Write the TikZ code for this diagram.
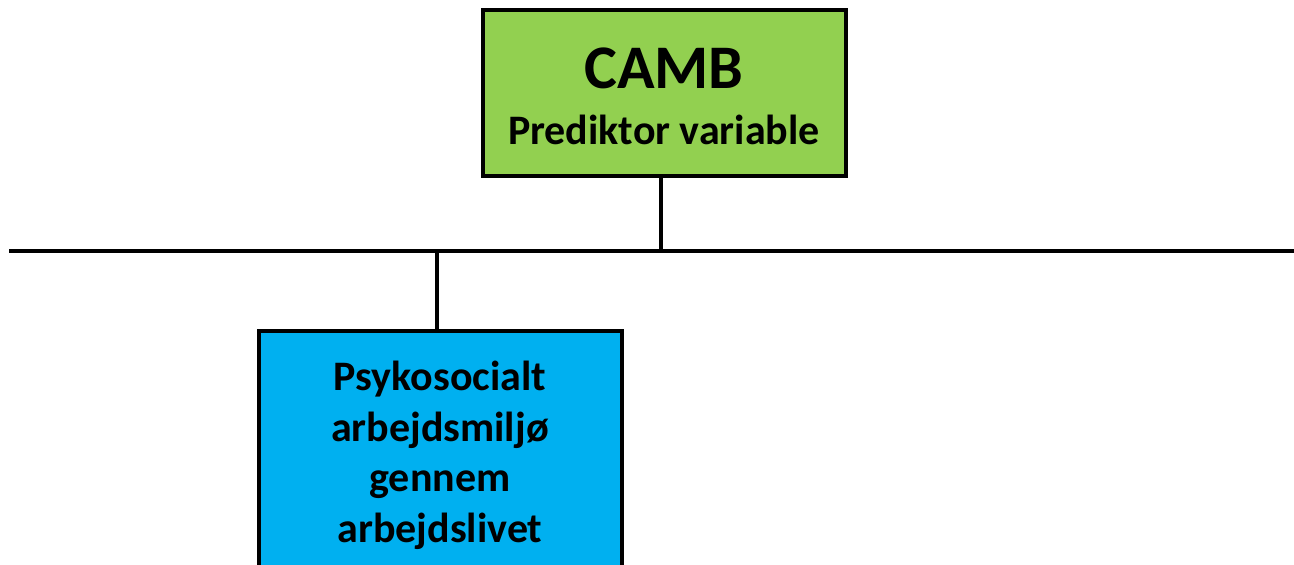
\documentclass[tikz,border=0pt]{standalone}
\usepackage{fontspec}
\setmainfont{Carlito}
\definecolor{boxgreen}{HTML}{92D050}
\definecolor{boxblue}{HTML}{00B0F0}
\begin{document}
\begin{tikzpicture}[x=1pt,y=-1pt,
  box/.style={draw=black,line width=4pt,minimum width=363pt,inner sep=0pt,align=center},
  lbl/.style={font=\bfseries,inner sep=0pt,align=center},
  conn/.style={draw=black,line width=4.5pt}]
\useasboundingbox (0,0) rectangle (1294,565);
\clip (0,0) rectangle (1294,565);
% top box
\node[box,fill=boxgreen,minimum height=166pt] (camb) at (664.5,93) {};
\node[lbl,anchor=base,font=\bfseries\fontsize{62}{70}\selectfont] (cambt) at (664,88) {CAMB};
\node[lbl,anchor=base,font=\bfseries\fontsize{42}{48}\selectfont] (pred) at (664,144) {Prediktor variable};
% bottom box
\node[box,fill=boxblue,minimum height=250pt] (psy) at (440,456) {};
\node[lbl,font=\bfseries\fontsize{42}{50.5}\selectfont] (psyt) at (440,455.5)
  {Psykosocialt\\arbejdsmiljø\\gennem\\arbejdslivet};
% connectors
\coordinate (hl) at (9,251);
\coordinate (hr) at (1300,251);
\coordinate (j1) at (661,251);
\coordinate (j2) at (437,251);
\draw[conn] (hl) -- (hr);
\draw[conn] (camb.south -| j1) -- (j1);
\draw[conn] (j2) -- (j2 |- psy.north);
\end{tikzpicture}
\end{document}
